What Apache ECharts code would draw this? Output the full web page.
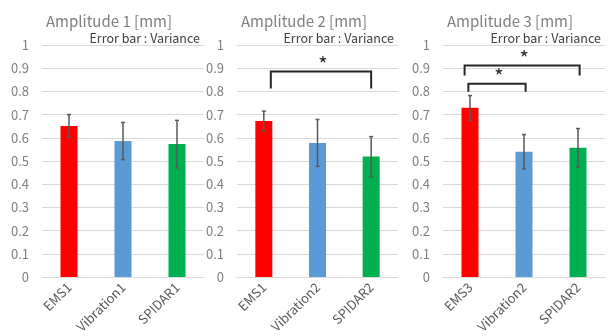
<!DOCTYPE html>
<html>
<head>
<meta charset="utf-8">
<script src="https://cdn.jsdelivr.net/npm/echarts@6/dist/echarts.min.js"></script>
<style>
  html, body { margin: 0; padding: 0; background: #fff; }
  #chart { width: 614px; height: 336px; }
</style>
</head>
<body>
<div id="chart"></div>
<script>
// categories of each panel
var categories1 = ['EMS1', 'Vibration1', 'SPIDAR1'];
var categories2 = ['EMS1', 'Vibration2', 'SPIDAR2'];
var categories3 = ['EMS3', 'Vibration2', 'SPIDAR2'];

// mean amplitude [mm]
var means1 = [0.651, 0.586, 0.573];
var means2 = [0.672, 0.578, 0.519];
var means3 = [0.729, 0.540, 0.557];

// error bar : variance
var variance1 = [0.049, 0.080, 0.102];
var variance2 = [0.043, 0.101, 0.086];
var variance3 = [0.053, 0.074, 0.083];

// significance brackets: [from (category pos), to (category pos), top, leg bottom]
var sig1 = [];
var sig2 = [[0.13, 2.0, 0.886, 0.813]];
var sig3 = [[-0.1, 2.03, 0.912, 0.869], [-0.03, 1.03, 0.833, 0.799]];

var titles = ['Amplitude 1 [mm]', 'Amplitude 2 [mm]', 'Amplitude 3 [mm]'];
var yTicks = ['0', '0.1', '0.2', '0.3', '0.4', '0.5', '0.6', '0.7', '0.8', '0.9', '1'];

var barColors = ['#ff0000', '#5b9bd5', '#00b050'];
var FONT = '"Noto Sans CJK JP", "Noto Sans", sans-serif';

var panels = [
  { cats: categories1, means: means1, vars: variance1, sig: sig1, left: 42, width: 162 },
  { cats: categories2, means: means2, vars: variance2, sig: sig2, left: 237, width: 161 },
  { cats: categories3, means: means3, vars: variance3, sig: sig3, left: 443, width: 162 }
];

var grids = [], xAxes = [], yAxes = [], series = [], graphics = [];

panels.forEach(function (p, k) {
  grids.push({ left: p.left, width: p.width, top: 45, bottom: 59 });
  xAxes.push({
    type: 'category', gridIndex: k, data: p.cats,
    axisTick: { show: false },
    axisLine: { lineStyle: { color: '#d9d9d9', width: 1 } },
    axisLabel: { rotate: 45, interval: 0, color: '#595959', fontSize: 13, margin: 8, fontFamily: FONT }
  });
  yAxes.push({
    type: 'value', gridIndex: k, min: 0, max: 1, interval: 0.1,
    axisLine: { show: false }, axisTick: { show: false },
    splitLine: { lineStyle: { color: '#d9d9d9', width: 1 } },
    axisLabel: {
      color: '#7f7f7f', fontSize: 13, margin: 13, fontFamily: FONT,
      formatter: function (v) { return yTicks[Math.round(v * 10)]; }
    }
  });

  // bars
  series.push({
    type: 'bar', xAxisIndex: k, yAxisIndex: k, barWidth: 17,
    data: p.means.map(function (m, i) {
      return { value: m, itemStyle: { color: barColors[i] } };
    }),
    z: 2
  });

  // error bars
  series.push({
    type: 'custom', xAxisIndex: k, yAxisIndex: k, z: 5,
    data: p.means.map(function (m, i) { return [i, m - p.vars[i], m + p.vars[i]]; }),
    renderItem: function (params, api) {
      var lo = api.coord([api.value(0), api.value(1)]);
      var hi = api.coord([api.value(0), api.value(2)]);
      var c = 2;
      var st = { stroke: '#595959', lineWidth: 1.5 };
      return {
        type: 'group',
        children: [
          { type: 'line', shape: { x1: lo[0], y1: lo[1], x2: hi[0], y2: hi[1] }, style: st },
          { type: 'line', shape: { x1: hi[0] - c, y1: hi[1], x2: hi[0] + c, y2: hi[1] }, style: st },
          { type: 'line', shape: { x1: lo[0] - c, y1: lo[1], x2: lo[0] + c, y2: lo[1] }, style: st }
        ]
      };
    }
  });

  // significance brackets
  if (p.sig.length) {
    series.push({
      type: 'custom', xAxisIndex: k, yAxisIndex: k, z: 6,
      data: p.sig.map(function (s) { return [0, s[2], s[0], s[1], s[3]]; }),
      renderItem: function (params, api) {
        var base = api.coord([0, api.value(1)]);
        var band = api.size([1, 0])[0];
        var yBot = api.coord([0, api.value(4)])[1];
        var x1 = base[0] + api.value(2) * band;
        var x2 = base[0] + api.value(3) * band;
        var y = base[1];
        var st = { stroke: '#262626', lineWidth: 2, fill: null };
        return {
          type: 'group',
          children: [
            { type: 'polyline', shape: { points: [[x1, yBot], [x1, y], [x2, y], [x2, yBot]] }, style: st },
            { type: 'text', x: (x1 + x2) / 2 + 2, y: y + 3,
              style: { text: '*', align: 'center', verticalAlign: 'bottom', fill: '#262626',
                       font: '20px ' + FONT } }
          ]
        };
      }
    });
  }

  // panel titles
  graphics.push({
    type: 'text', x: p.left + 67, y: 21,
    style: { text: titles[k], align: 'center', verticalAlign: 'middle', fill: '#7f7f7f', font: '15px ' + FONT }
  });
  graphics.push({
    type: 'text', x: p.left + p.width - 4, y: 38,
    style: { text: 'Error bar : Variance', align: 'right', verticalAlign: 'middle', fill: '#404040', font: '12.5px ' + FONT }
  });
});

var chart = echarts.init(document.getElementById('chart'), null, { renderer: 'canvas' });
chart.setOption({
  animation: false,
  backgroundColor: '#fff',
  grid: grids,
  xAxis: xAxes,
  yAxis: yAxes,
  series: series,
  graphic: graphics
});
</script>
</body>
</html>
